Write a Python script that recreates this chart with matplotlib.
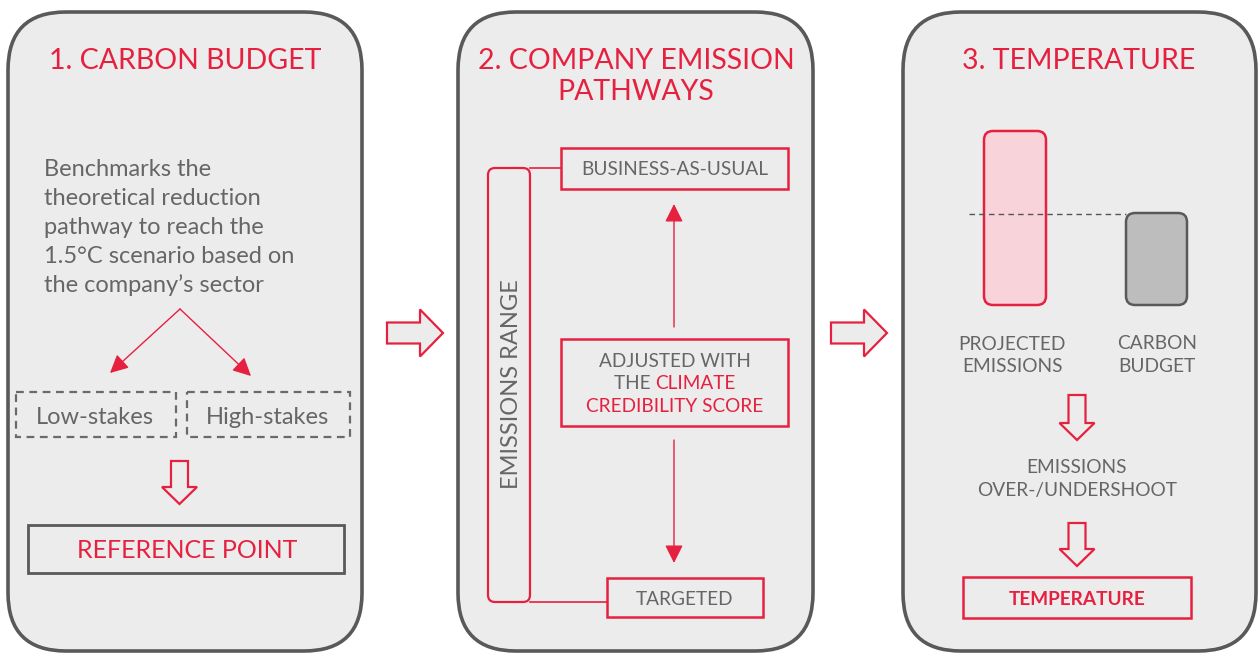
import matplotlib
matplotlib.use("Agg")
import matplotlib.pyplot as plt
from matplotlib.patches import FancyBboxPatch, Rectangle, Polygon, FancyArrowPatch

plt.rcParams['font.family'] = ['Lato', 'DejaVu Sans']

# ---- content ----
panel_titles = ["1. CARBON BUDGET", "2. COMPANY EMISSION\nPATHWAYS", "3. TEMPERATURE"]
body_lines = ["Benchmarks the", "theoretical reduction", "pathway to reach the",
              "1.5°C scenario based on", "the company’s sector"]
stake_labels = ["Low-stakes", "High-stakes"]
reference_label = "REFERENCE POINT"
range_label = "EMISSIONS RANGE"
bau_label = "BUSINESS-AS-USUAL"
targeted_label = "TARGETED"
adjusted_parts = ["ADJUSTED WITH", "THE ", "CLIMATE", "CREDIBILITY SCORE"]
bar_labels = ["PROJECTED\nEMISSIONS", "CARBON\nBUDGET"]
overshoot_label = "EMISSIONS\nOVER-/UNDERSHOOT"
temperature_label = "TEMPERATURE"

RED = "#E6213F"
GRAY_TXT = "#666666"
EDGE = "#595959"
PANEL = "#ECECEC"
PINK = "#F9D3DA"
BAR_GRAY = "#BDBDBD"

W, H = 1258, 653
fig = plt.figure(figsize=(W / 100, H / 100), dpi=100)
ax = fig.add_axes([0, 0, 1, 1])
ax.set_xlim(0, W)
ax.set_ylim(H, 0)
ax.axis("off")

def rbox(x0, y0, x1, y1, r, fc, ec, lw, z=1, ls="-"):
    p = FancyBboxPatch((x0, y0), x1 - x0, y1 - y0,
                       boxstyle=f"round,pad=0,rounding_size={r}",
                       fc=fc, ec=ec, lw=lw, zorder=z, ls=ls)
    ax.add_patch(p)

def rect(x0, y0, x1, y1, ec, lw, fc="none", ls="-", z=3):
    ax.add_patch(Rectangle((x0, y0), x1 - x0, y1 - y0, fc=fc, ec=ec, lw=lw, ls=ls, zorder=z))

def hollow_arrow(tail, tip, shaft_w, head_w, head_len, direction):
    if direction == "right":
        (x0, yc), (x1, _) = tail, tip
        xb = x1 - head_len
        pts = [(x0, yc - shaft_w / 2), (xb, yc - shaft_w / 2), (xb, yc - head_w / 2), (x1, yc),
               (xb, yc + head_w / 2), (xb, yc + shaft_w / 2), (x0, yc + shaft_w / 2)]
    else:
        (xc, y0), (_, y1) = tail, tip
        yb = y1 - head_len
        pts = [(xc - shaft_w / 2, y0), (xc - shaft_w / 2, yb), (xc - head_w / 2, yb), (xc, y1),
               (xc + head_w / 2, yb), (xc + shaft_w / 2, yb), (xc + shaft_w / 2, y0)]
    ax.add_patch(Polygon(pts, closed=True, fc=PANEL, ec=RED, lw=1.6, joinstyle="miter", zorder=4))

def thin_arrow(p0, p1):
    ax.add_patch(FancyArrowPatch(p0, p1, arrowstyle="-|>,head_length=1.1,head_width=0.55",
                                 mutation_scale=10, color=RED, lw=1.0,
                                 shrinkA=0, shrinkB=0, zorder=4))

# ---- panels ----
panels = [(8, 362), (458, 813), (903, 1256)]
for x0, x1 in panels:
    rbox(x0, 12, x1, 651, 58, PANEL, EDGE, 2.6, z=1)

title_kw = dict(color=RED, fontsize=20.5, ha="center", va="baseline", zorder=5)
ax.text(185, 69, panel_titles[0], **title_kw)
t2 = panel_titles[1].split("\n")
ax.text(636, 69, t2[0], **title_kw)
ax.text(636, 100, t2[1], **title_kw)
ax.text(1079, 69, panel_titles[2], **title_kw)

# ---- panel 1 ----
for i, line in enumerate(body_lines):
    ax.text(44, 176 + 29 * i, line, color=GRAY_TXT, fontsize=17, ha="left", va="baseline", zorder=5)

thin_arrow((180, 309), (110, 373))
thin_arrow((180, 309), (251, 376))

rect(16, 392, 176, 437, "#6A6A6A", 1.6, ls=(0, (3.5, 2.5)))
rect(187, 392, 350, 437, "#6A6A6A", 1.6, ls=(0, (3.5, 2.5)))
ax.text(95, 424, stake_labels[0], color=GRAY_TXT, fontsize=17, ha="center", va="baseline", zorder=5)
ax.text(268, 424, stake_labels[1], color=GRAY_TXT, fontsize=17, ha="center", va="baseline", zorder=5)

hollow_arrow((179.5, 461), (179.5, 504), 17, 35, 17, "down")

rect(28, 525, 344, 573, EDGE, 2.0)
ax.text(187, 558, reference_label, color=RED, fontsize=18, ha="center", va="baseline", zorder=5)

# ---- arrows between panels ----
hollow_arrow((387, 333), (443, 333), 21, 47, 23, "right")
hollow_arrow((831, 333), (887, 333), 21, 47, 23, "right")

# ---- panel 2 ----
rbox(488, 168, 530, 602, 7, "none", RED, 1.6, z=3)
ax.text(511, 384, range_label, color=GRAY_TXT, fontsize=17, rotation=90,
        ha="center", va="center", zorder=5)
ax.plot([530, 561], [168, 168], color=RED, lw=1.2, zorder=3)
ax.plot([530, 607], [602, 602], color=RED, lw=1.2, zorder=3)

rect(561, 148, 788, 189, RED, 1.8)
ax.text(675, 175, bau_label, color=GRAY_TXT, fontsize=13.7, ha="center", va="baseline", zorder=5)

thin_arrow((674, 327), (674, 204))
thin_arrow((674, 440), (674, 563))

rect(561, 339, 788, 426, RED, 1.8)
adj_kw = dict(fontsize=13.7, va="baseline", zorder=5)
ax.text(675, 367, adjusted_parts[0], color=GRAY_TXT, ha="center", **adj_kw)
r = fig.canvas.get_renderer()
ta = ax.text(0, 389, adjusted_parts[1], color=GRAY_TXT, ha="left", **adj_kw)
tb = ax.text(0, 389, adjusted_parts[2], color=RED, ha="left", **adj_kw)
inv = ax.transData.inverted()
def width_data(t):
    bb = t.get_window_extent(renderer=r)
    p0 = inv.transform((bb.x0, bb.y0)); p1 = inv.transform((bb.x1, bb.y0))
    return p1[0] - p0[0]
wa, wb = width_data(ta), width_data(tb)
start = 675 - (wa + wb) / 2
ta.set_x(start)
tb.set_x(start + wa)
ax.text(675, 412, adjusted_parts[3], color=RED, ha="center", **adj_kw)

rect(607, 578, 763, 617, RED, 1.8)
ax.text(685, 605, targeted_label, color=GRAY_TXT, fontsize=13.7, ha="center", va="baseline", zorder=5)

# ---- panel 3 ----
rbox(984, 131, 1046, 305, 9, PINK, RED, 1.8, z=3)
rbox(1126, 213, 1187, 305, 9, BAR_GRAY, EDGE, 1.8, z=3)
ax.plot([969, 1126], [214, 214], color="#555555", lw=1.0, ls=(0, (4, 3)), zorder=4)

bl0 = bar_labels[0].split("\n")
bl1 = bar_labels[1].split("\n")
lab_kw = dict(color=GRAY_TXT, fontsize=13.8, ha="center", va="baseline", zorder=5)
ax.text(1012, 350, bl0[0], **lab_kw)
ax.text(1012, 372, bl0[1], **lab_kw)
ax.text(1157, 349, bl1[0], **lab_kw)
ax.text(1157, 372, bl1[1], **lab_kw)

hollow_arrow((1077, 395), (1077, 440), 17, 35, 17, "down")
ov = overshoot_label.split("\n")
ax.text(1077, 473, ov[0], **lab_kw)
ax.text(1077, 496, ov[1], **lab_kw)
hollow_arrow((1077, 523), (1077, 566), 17, 35, 17, "down")

rect(963, 577, 1191, 618, RED, 1.8)
ax.text(1077, 605, temperature_label, color=RED, fontsize=13.7, fontweight="bold",
        ha="center", va="baseline", zorder=5)

fig.savefig("out.png", dpi=100, facecolor="white")
